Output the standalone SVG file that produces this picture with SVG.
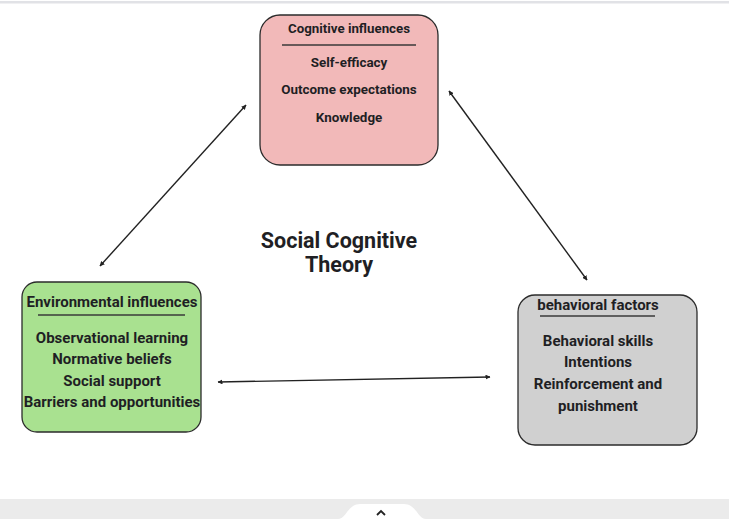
<svg xmlns="http://www.w3.org/2000/svg" width="729" height="519" viewBox="0 0 729 519">
<style>
.box{stroke:#2b2b2b;stroke-width:1.3}
.t{font-family:Roboto,"Liberation Sans",Arial,sans-serif;font-weight:bold;fill:#1f1f24;text-anchor:middle}
.ul{stroke:#3a3a3a;stroke-width:1.3}
.conn{stroke:#222;stroke-width:1.4;fill:none;marker-start:url(#ah);marker-end:url(#ah)}
</style>
<defs>
<marker id="ah" viewBox="0 0 10 10" refX="9" refY="5" markerWidth="5" markerHeight="5" orient="auto-start-reverse" markerUnits="userSpaceOnUse">
<path d="M0,0 L10,5 L0,10 z" fill="#222"/>
</marker>
</defs>
<rect x="0" y="0" width="729" height="519" fill="#ffffff"/>
<rect x="0" y="1" width="729" height="2.5" fill="#e1e2e6"/>
<g id="cognitive">
<rect class="box" x="260" y="15" width="178" height="150" rx="20" fill="#f2b9b9"/>
<text class="t" x="349" y="33" font-size="13.3">Cognitive influences</text>
<line class="ul" x1="282" y1="45" x2="416" y2="45"/>
<text class="t" x="349" y="67" font-size="13.4">Self-efficacy</text>
<text class="t" x="349" y="94" font-size="13.4">Outcome expectations</text>
<text class="t" x="349" y="122" font-size="13.4">Knowledge</text>
</g>
<g id="environmental">
<rect class="box" x="22" y="282" width="179" height="150" rx="15" fill="#a9e190"/>
<text class="t" x="112" y="307" font-size="15">Environmental influences</text>
<line class="ul" x1="38" y1="315" x2="185" y2="315"/>
<text class="t" x="112" y="343" font-size="15">Observational learning</text>
<text class="t" x="112" y="364" font-size="15">Normative beliefs</text>
<text class="t" x="112" y="386" font-size="15">Social support</text>
<text class="t" x="112" y="407" font-size="15">Barriers and opportunities</text>
</g>
<g id="behavioral">
<rect class="box" x="518" y="295" width="179" height="150" rx="17" fill="#d0d0d0"/>
<text class="t" x="598" y="310" font-size="15">behavioral factors</text>
<line class="ul" x1="540" y1="316" x2="655" y2="316"/>
<text class="t" x="598" y="346" font-size="15">Behavioral skills</text>
<text class="t" x="598" y="367" font-size="15">Intentions</text>
<text class="t" x="598" y="389" font-size="15">Reinforcement and</text>
<text class="t" x="598" y="411" font-size="15">punishment</text>
</g>
<g id="title">
<text class="t" x="339" y="248" font-size="21.5">Social Cognitive</text>
<text class="t" x="339" y="272" font-size="21.5">Theory</text>
</g>
<g id="connectors">
<line class="conn" x1="100" y1="266" x2="246" y2="105"/>
<line class="conn" x1="449" y1="91" x2="587" y2="280"/>
<line class="conn" x1="218" y1="382" x2="490" y2="377"/>
</g>
<g id="bottombar">
<rect x="0" y="499" width="729" height="20" fill="#ebebeb"/>
<path d="M338,519 C346,519 348,504 360,504 L404,504 C416,504 418,519 426,519 Z" fill="#ffffff"/>
<path d="M377,515 L381,511 L385,515" fill="none" stroke="#222" stroke-width="1.8"/>
</g>
</svg>
